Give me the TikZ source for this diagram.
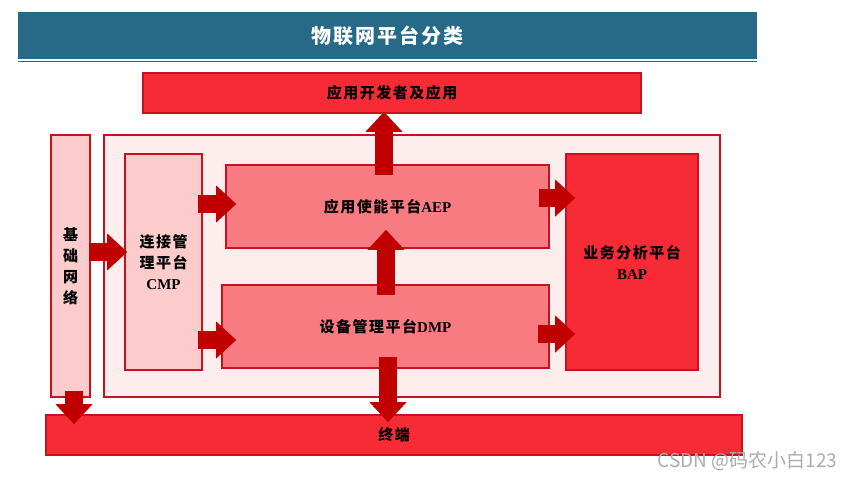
\documentclass[tikz,border=0pt]{standalone}
\usepackage{fontspec}
\setmainfont{Liberation Serif}
\newfontfamily\cjk[LetterSpace=10]{Noto Sans CJK SC}
\newfontfamily\marksans{Noto Sans CJK SC}
\usetikzlibrary{arrows.meta,positioning,calc}
\definecolor{bannerblue}{RGB}{38,106,136}
\definecolor{edgered}{RGB}{200,16,30}
\definecolor{arrowred}{RGB}{192,0,0}
\definecolor{strongred}{RGB}{246,43,53}
\definecolor{midred}{RGB}{248,123,130}
\definecolor{lightred}{RGB}{252,203,204}
\definecolor{palered}{RGB}{253,237,237}
\tikzset{
  box/.style={draw=edgered, line width=1.6pt, inner sep=0pt, align=center,
    font=\fontsize{15}{21}\selectfont\bfseries},
  blk/.style={draw=arrowred, line width=18pt,
    -{Triangle[length=20pt,width=37pt,line width=0pt]}},
}

\begin{document}
\begin{tikzpicture}[x=1pt,y=-1pt]
  \useasboundingbox (0,0) rectangle (856,479);
  % banner
  \node[fill=bannerblue, text=white, minimum width=739pt, minimum height=47pt,
    font=\cjk\fontsize{20}{24}\selectfont\bfseries] (title) at (387.5,35.5) {物联网平台分类};
  \draw[bannerblue, line width=1.3pt] ($(title.south west)+(0,2.5)$) -- ($(title.south east)+(0,2.5)$);
  % boxes
  \node[box, fill=strongred, minimum width=498pt, minimum height=40pt] (app) at (392,93) {\cjk 应用开发者及应用};
  \node[box, fill=lightred, minimum width=39pt, minimum height=262pt] (net) at (70.5,266) {\cjk 基\\\cjk 础\\\cjk 网\\\cjk 络};
  \node[box, fill=palered, minimum width=616pt, minimum height=262pt] (outer) at (412,266) {};
  \node[box, fill=lightred, minimum width=77pt, minimum height=216pt] (cmp) at (163.5,262) {\cjk 连接管\\\cjk 理平台\\CMP};
  \node[box, fill=midred, minimum width=323pt, minimum height=83pt] (aep) at (387.5,206.5) {{\cjk 应用使能平台}AEP};
  \node[box, fill=midred, minimum width=327pt, minimum height=83pt] (dmp) at (385.5,326.5) {{\cjk 设备管理平台}DMP};
  \node[box, fill=strongred, minimum width=132pt, minimum height=216pt] (bap) at (632,262) {\cjk 业务分析平台\\BAP};
  \node[box, fill=strongred, minimum width=696pt, minimum height=40pt] (term) at (394,435) {\cjk 终端};
  % arrows
  \draw[blk] ($(net.east)+(-2,-14)$) -- ($(cmp.west)+(3,-10)$);
  \draw[blk] ($(cmp.east)+(-5,-58)$) -- ($(aep.west)+(11,-2.5)$);
  \draw[blk] ($(cmp.east)+(-5,78)$) -- ($(dmp.west)+(15,13.5)$);
  \draw[blk] ($(aep.east)+(-11,-8.5)$) -- ($(bap.west)+(10,-64)$);
  \draw[blk] ($(dmp.east)+(-12,7.5)$) -- ($(bap.west)+(10,72)$);
  \draw[blk] ($(dmp.north)+(0.5,11)$) -- ($(aep.south)+(-1.5,-19)$);
  \draw[blk] ($(aep.north)+(-3.5,11)$) -- ($(app.south)+(-8,-2)$);
  \draw[blk] ($(dmp.south)+(2.5,-12)$) -- ($(term.north)+(-6,8)$);
  \draw[blk] ($(net.south)+(3.5,-7)$) -- ($(term.north)+(-320,10)$);
  % watermark
  \node[anchor=east, text=gray!65, font=\marksans\fontsize{19}{19}\selectfont] (mark) at (841,461) {CSDN @码农小白123};
\end{tikzpicture}
\end{document}
